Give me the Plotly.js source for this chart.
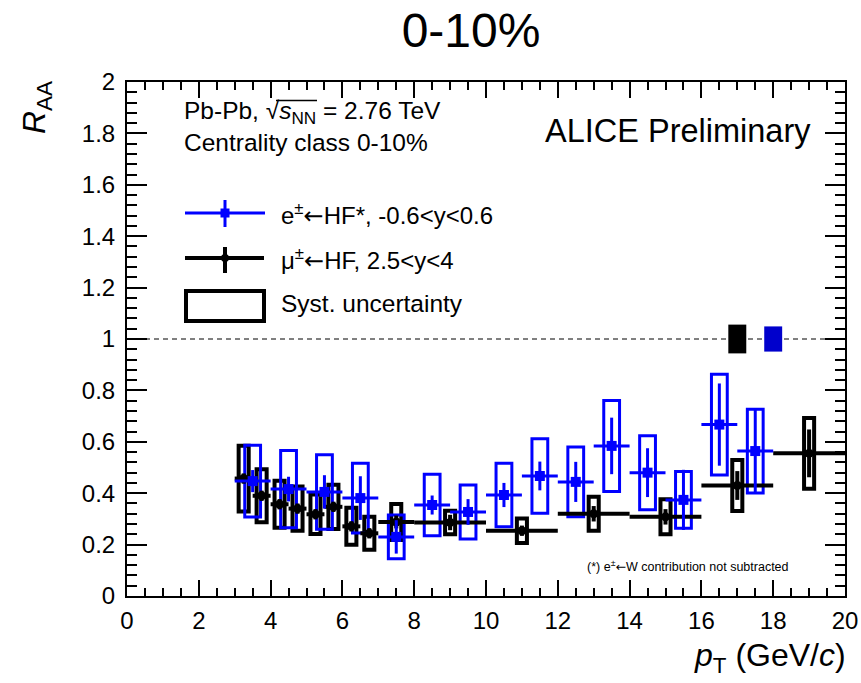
<!DOCTYPE html>
<html>
<head>
<meta charset="utf-8">
<script src="https://cdn.plot.ly/plotly-3.0.1.min.js"></script>
<style>html,body{margin:0;padding:0;background:#fff;}#plot{width:861px;height:683px;}</style>
</head>
<body>
<div id="plot"></div>
<script>
// ---- data ----
const ptE   = [3.5, 4.5, 5.5, 6.5, 7.5, 8.5, 9.5, 10.5, 11.5, 12.5, 13.5, 14.5, 15.5, 16.5, 17.5];
const bwE   = [0.5, 0.5, 0.5, 0.5, 0.5, 0.5, 0.5, 0.5, 0.5, 0.5, 0.5, 0.5, 0.5, 0.5, 0.5];
const raaE  = [0.447, 0.416, 0.405, 0.381, 0.230, 0.354, 0.327, 0.393, 0.467, 0.444, 0.584, 0.480, 0.374, 0.667, 0.564];
const statE = [0.043, 0.048, 0.065, 0.085, 0.065, 0.037, 0.050, 0.047, 0.056, 0.078, 0.110, 0.095, 0.117, 0.160, 0.160];
const sysE  = [0.140, 0.150, 0.145, 0.136, 0.085, 0.120, 0.105, 0.124, 0.145, 0.136, 0.177, 0.144, 0.110, 0.196, 0.163];

const ptMu   = [3.25, 3.75, 4.25, 4.75, 5.25, 5.75, 6.25, 6.75, 7.5, 9, 11, 13, 15, 17, 19];
const bwMu   = [0.25, 0.25, 0.25, 0.25, 0.25, 0.25, 0.25, 0.25, 0.5, 1, 1, 1, 1, 1, 1];
const raaMu  = [0.457, 0.390, 0.357, 0.340, 0.318, 0.347, 0.271, 0.244, 0.288, 0.286, 0.254, 0.320, 0.308, 0.430, 0.555];
const statMu = [0.020, 0.020, 0.020, 0.020, 0.020, 0.020, 0.020, 0.020, 0.025, 0.030, 0.020, 0.030, 0.030, 0.056, 0.093];
const sysMu  = [0.128, 0.103, 0.091, 0.086, 0.077, 0.086, 0.072, 0.064, 0.070, 0.046, 0.048, 0.066, 0.068, 0.099, 0.138];

const normMuX = 17, normMu = 0.056;
const normEX = 18, normE = 0.049;

const xTicks = [0, 2, 4, 6, 8, 10, 12, 14, 16, 18, 20];
const yTicks = [0, 0.2, 0.4, 0.6, 0.8, 1, 1.2, 1.4, 1.6, 1.8, 2];

// ---- styles ----
const BLUE = '#0000ff', BLACK = '#000000', FONT = 'Liberation Sans, Arial, Helvetica, sans-serif';
const ARROW = '<span style="font-family:DejaVu Sans">←</span>';
const sysHalfE = 0.22, sysHalfMu = 0.14, normHalf = 0.25;

// plot area in pixels
const L = 127, R = 845, T = 82, B = 596;
const px = v => (v - L) / (R - L);
const py = v => (B - v) / (B - T);

const shapes = [];
// dashed unity line
shapes.push({type:'line', xref:'x', yref:'y', x0:0, x1:20, y0:1, y1:1, line:{color:BLACK, width:1, dash:'5px,4px'}, layer:'below'});
// systematic boxes
ptMu.forEach((x,i)=>shapes.push({type:'rect', xref:'x', yref:'y', x0:x-sysHalfMu, x1:x+sysHalfMu, y0:raaMu[i]-sysMu[i], y1:raaMu[i]+sysMu[i], line:{color:BLACK, width:4}, fillcolor:'rgba(0,0,0,0)', layer:'below'}));
ptE.forEach((x,i)=>shapes.push({type:'rect', xref:'x', yref:'y', x0:x-sysHalfE, x1:x+sysHalfE, y0:raaE[i]-sysE[i], y1:raaE[i]+sysE[i], line:{color:BLUE, width:3}, fillcolor:'rgba(0,0,0,0)', layer:'below'}));
// normalization boxes
shapes.push({type:'rect', xref:'x', yref:'y', x0:normMuX-normHalf, x1:normMuX+normHalf, y0:1-normMu, y1:1+normMu, line:{width:0}, fillcolor:BLACK, layer:'below'});
shapes.push({type:'rect', xref:'x', yref:'y', x0:normEX-normHalf, x1:normEX+normHalf, y0:1-normE, y1:1+normE, line:{width:0}, fillcolor:'#0000cc', layer:'below'});

// legend samples (paper coords)
shapes.push({type:'line', xref:'paper', yref:'paper', x0:px(185), x1:px(265), y0:py(213), y1:py(213), line:{color:BLUE, width:3}});
shapes.push({type:'line', xref:'paper', yref:'paper', x0:px(225), x1:px(225), y0:py(200), y1:py(227), line:{color:BLUE, width:3}});
shapes.push({type:'rect', xref:'paper', yref:'paper', x0:px(220.5), x1:px(229.5), y0:py(217.5), y1:py(208.5), line:{width:0}, fillcolor:BLUE});
shapes.push({type:'line', xref:'paper', yref:'paper', x0:px(185), x1:px(264), y0:py(258), y1:py(258), line:{color:BLACK, width:4}});
shapes.push({type:'line', xref:'paper', yref:'paper', x0:px(225), x1:px(225), y0:py(247), y1:py(273), line:{color:BLACK, width:4}});
shapes.push({type:'circle', xref:'paper', yref:'paper', x0:px(221), x1:px(229), y0:py(262), y1:py(254), line:{width:0}, fillcolor:BLACK});
shapes.push({type:'rect', xref:'paper', yref:'paper', x0:px(186), x1:px(264), y0:py(321), y1:py(291), line:{color:BLACK, width:4}, fillcolor:'rgba(0,0,0,0)'});
// overline of the square root
shapes.push({type:'line', xref:'paper', yref:'paper', x0:px(276), x1:px(317), y0:py(100.5), y1:py(100.5), line:{color:BLACK, width:1.5}});

const ann = (x, y, text, size, xanchor, opts) => Object.assign({xref:'paper', yref:'paper', x:px(x), y:py(y), text:text, showarrow:false, xanchor:xanchor||'left', yanchor:'middle', font:{family:FONT, size:size, color:BLACK}}, opts||{});

const annotations = [
  ann(182, 112, 'Pb-Pb, √<i>s</i><sub>NN</sub> = 2.76 TeV', 24.5),
  ann(182, 142, 'Centrality class 0-10%', 24.5),
  ann(813, 131, 'ALICE Preliminary', 32.5, 'right'),
  ann(279, 214, 'e<sup>±</sup>' + ARROW + 'HF*, -0.6&lt;y&lt;0.6', 24),
  ann(279, 259, 'μ<sup>±</sup>' + ARROW + 'HF, 2.5&lt;y&lt;4', 24),
  ann(279, 303, 'Syst. uncertainty', 24.5),
  ann(791, 566, '(*) e<sup>±</sup>' + ARROW + 'W contribution not subtracted', 12.5, 'right'),
  ann(848, 657, '<i>p</i><sub>T</sub> (GeV/<i>c</i>)', 32, 'right'),
  ann(36, 108, '<i>R</i><sub>AA</sub>', 32, 'center', {textangle:-90})
];

const traces = [
  {type:'scatter', mode:'markers', x:ptMu, y:raaMu,
   error_x:{type:'data', array:bwMu, color:BLACK, thickness:4, width:0},
   error_y:{type:'data', array:statMu, color:BLACK, thickness:4, width:0},
   marker:{symbol:'circle', size:9, color:BLACK}, showlegend:false},
  {type:'scatter', mode:'markers', x:ptE, y:raaE,
   error_x:{type:'data', array:bwE, color:BLUE, thickness:3, width:0},
   error_y:{type:'data', array:statE, color:BLUE, thickness:3, width:0},
   marker:{symbol:'square', size:10, color:BLUE}, showlegend:false}
];

const axisCommon = {showgrid:false, zeroline:false, showline:true, linecolor:BLACK, linewidth:2,
  mirror:'allticks', ticks:'inside', tickcolor:BLACK, tickwidth:2,
  tickfont:{family:FONT, size:24, color:BLACK}};

const layout = {
  width:861, height:683,
  margin:{l:L, r:861-R, t:T, b:683-B, pad:0},
  paper_bgcolor:'#fff', plot_bgcolor:'#fff',
  title:{text:'0-10%', font:{family:FONT, size:48, color:BLACK}, x:471/861, xanchor:'center', xref:'container', y:1-30/683, yanchor:'middle', yref:'container'},
  xaxis:Object.assign({}, axisCommon, {range:[0,20], tickvals:xTicks, ticktext:xTicks.map(String), ticklen:16, ticklabelstandoff:2,
    minor:{dtick:0.5, ticklen:8, tickwidth:2, tickcolor:BLACK, ticks:'inside'}}),
  yaxis:Object.assign({}, axisCommon, {range:[0,2], tickvals:yTicks, ticktext:yTicks.map(String), ticklen:20, ticklabelstandoff:5,
    minor:{dtick:0.04, ticklen:10, tickwidth:2, tickcolor:BLACK, ticks:'inside'}}),
  shapes:shapes, annotations:annotations, showlegend:false
};

Plotly.newPlot('plot', traces, layout, {displayModeBar:false, staticPlot:true});
</script>
</body>
</html>
